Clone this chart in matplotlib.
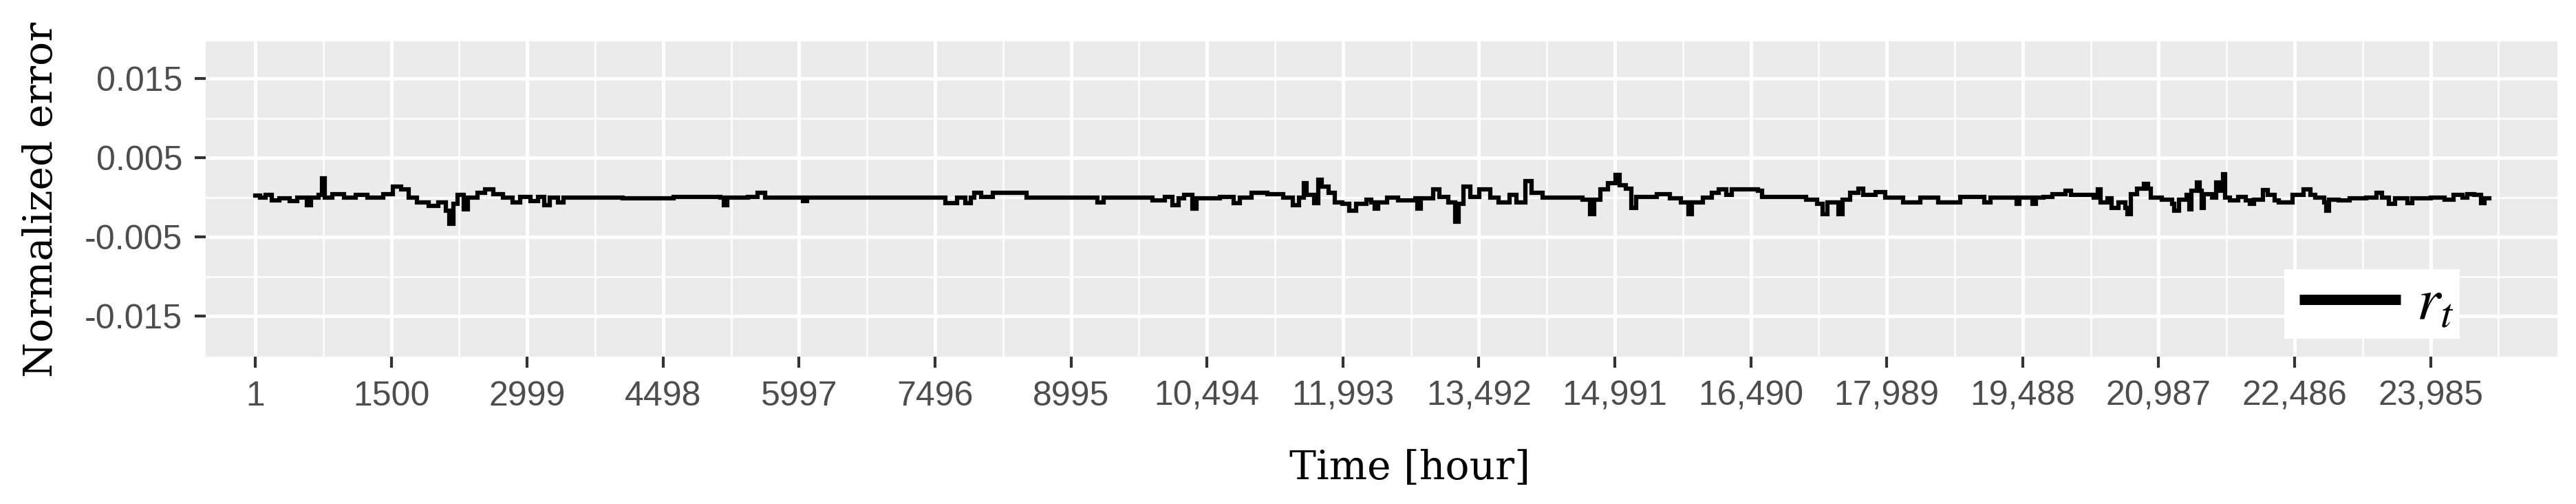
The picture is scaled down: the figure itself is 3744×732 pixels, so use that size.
import matplotlib
matplotlib.use("Agg")
import matplotlib.pyplot as plt
from matplotlib.legend_handler import HandlerLine2D

# ---- data (hour, normalized error), step-wise ----
hours = [1, 53, 118, 182, 269, 377, 463, 571, 614, 701, 735, 766, 852, 982, 1111, 1241,
         1414, 1522, 1608, 1694, 1781, 1910, 2018, 2105, 2139, 2183, 2234, 2299, 2342,
         2450, 2537, 2623, 2731, 2839, 2925, 3033, 3120, 3185, 3250, 3336, 3401, 4049,
         4611, 5129, 5164, 5207, 5431, 5539, 5626, 6041, 6084, 7609, 7740, 7827, 7892,
         7927, 8001, 8132, 8502, 9287, 9352, 9897, 10027, 10114, 10180, 10245, 10332,
         10376, 10637, 10790, 10855, 10986, 11160, 11334, 11443, 11508, 11561, 11596,
         11674, 11718, 11761, 11835, 11901, 11988, 12066, 12140, 12249, 12308, 12342,
         12380, 12477, 12598, 12792, 12816, 12850, 12986, 13058, 13155, 13228, 13266,
         13325, 13397, 13494, 13615, 13712, 13833, 13906, 14002, 14075, 14196, 14632,
         14719, 14767, 14835, 14913, 14995, 15044, 15116, 15174, 15223, 15455, 15600,
         15721, 15804, 15842, 15963, 16060, 16133, 16220, 16278, 16569, 16617, 17101,
         17222, 17285, 17334, 17455, 17499, 17586, 17673, 17731, 17866, 17973, 18167,
         18360, 18554, 18796, 19062, 19130, 19418, 19455, 19593, 19631, 19719, 19819,
         19957, 20020, 20270, 20315, 20350, 20420, 20471, 20546, 20621, 20641, 20684,
         20747, 20822, 20872, 20897, 21023, 21135, 21160, 21210, 21298, 21323, 21348,
         21411, 21443, 21461, 21486, 21574, 21624, 21662, 21694, 21719, 21774, 21862,
         21950, 21995, 22038, 22138, 22188, 22263, 22308, 22461, 22588, 22664, 22715,
         22816, 22837, 22867, 22969, 23096, 23274, 23388, 23451, 23527, 23591, 23731,
         23781, 23985, 24137, 24239, 24340, 24391, 24467, 24543, 24581, 24632]

errors = [0.0002, 0.0, 0.0003, -0.0004, -0.0001, -0.0005, 0.0, -0.0010, 0.0, 0.0003, 0.0024,
          0.0, 0.0004, 0.0, 0.0003, 0.0, 0.0004, 0.0014, 0.0010, 0.0, -0.0006, -0.0011,
          -0.0006, -0.0017, -0.0033, -0.0008, 0.0003, -0.0015, 0.0, 0.0006, 0.0010, 0.0004,
          0.0, -0.0006, 0.0001, -0.0005, 0.0001, -0.0010, 0.0, -0.0006, 0.0, -0.0001,
          0.0001, 0.0, -0.0010, 0.0, 0.0001, 0.0006, 0.0, -0.0005, 0.0, -0.0007, 0.0,
          -0.0007, 0.0, 0.0006, 0.0001, 0.0006, 0.0, -0.0006, 0.0, -0.0004, 0.0001,
          -0.0010, -0.0001, 0.0003, -0.0014, -0.0001, 0.0001, -0.0007, 0.0, 0.0006, 0.0004,
          0.0, -0.0010, 0.0, 0.0018, 0.0003, -0.0007, 0.0022, 0.0014, 0.0006, -0.0006,
          -0.0008, -0.0017, -0.0008, -0.0003, -0.0006, -0.0014, -0.0006, 0.0, -0.0004,
          -0.0001, -0.0014, -0.0001, 0.0010, 0.0001, -0.0006, -0.0031, -0.0008, 0.0014,
          0.0001, 0.0010, 0.0, -0.0006, 0.0003, -0.0006, 0.0021, 0.0006, 0.0, -0.0003,
          -0.0021, -0.0003, 0.0010, 0.0018, 0.0028, 0.0015, 0.0011, -0.0013, 0.0001,
          0.0004, -0.0001, -0.0006, -0.0021, -0.0006, 0.0, 0.0006, 0.0010, 0.0003, 0.0010,
          0.0008, 0.0001, -0.0003, -0.0008, -0.0021, -0.0006, -0.0021, -0.0003, 0.0006,
          0.0011, 0.0003, 0.0007, 0.0, -0.0006, 0.0, -0.0006, 0.0001, -0.0006, 0.0,
          -0.0008, 0.0, -0.0008, 0.0, 0.0001, 0.0004, 0.0008, 0.0003, 0.0, 0.0010, -0.0006,
          -0.0001, -0.0013, -0.0006, -0.0013, -0.0021, 0.0004, 0.0011, 0.0017, 0.0011, 0.0,
          -0.0003, -0.0008, -0.0017, -0.0003, 0.0003, -0.0015, 0.0008, 0.0019, 0.0008,
          -0.0013, 0.0004, 0.0, 0.0019, 0.0008, 0.0029, 0.0, -0.0004, 0.0001, -0.0004,
          -0.0008, -0.0003, 0.0009, 0.0003, -0.0004, -0.0006, 0.0003, 0.0010, 0.0003, 0.0,
          -0.0006, -0.0017, -0.0003, -0.0004, -0.0001, 0.0, 0.0006, 0.0, -0.0008, -0.0001,
          -0.0007, -0.0001, 0.0, -0.0003, 0.0003, 0.0, 0.0004, 0.0003, -0.0007, -0.0001,
          -0.0001]

x_ticks = [1, 1500, 2999, 4498, 5997, 7496, 8995, 10494, 11993, 13492, 14991,
           16490, 17989, 19488, 20987, 22486, 23985]
x_tick_labels = ["1", "1500", "2999", "4498", "5997", "7496", "8995", "10,494",
                 "11,993", "13,492", "14,991", "16,490", "17,989", "19,488",
                 "20,987", "22,486", "23,985"]
y_ticks = [-0.015, -0.005, 0.005, 0.015]
y_tick_labels = ["-0.015", "-0.005", "0.005", "0.015"]
y_minor = [-0.01, 0.0, 0.01]
series_label = r"$r_t\,$"
x_title = "Time [hour]"
y_title = "Normalized error"

plt.rcParams["mathtext.fontset"] = "stix"

W, H, DPI = 3745, 732, 300
fig = plt.figure(figsize=(W / DPI, H / DPI), dpi=DPI)
fig.patch.set_facecolor("white")

left, right, top, bottom = 299, 3717, 60, 518
ax = fig.add_axes([left / W, 1 - bottom / H, (right - left) / W, (bottom - top) / H])
ax.set_facecolor("#EBEBEB")
for s in ax.spines.values():
    s.set_visible(False)

line, = ax.step(hours, errors, where="post", color="black", lw=1.5, label=series_label,
                solid_joinstyle="miter", zorder=3)

ax.set_xlim(-545, 25384)
ax.set_ylim(-0.0201, 0.0197)

ax.set_xticks(x_ticks)
ax.set_xticklabels(x_tick_labels)
step = x_ticks[1] - x_ticks[0]
ax.set_xticks([t + step / 2 for t in x_ticks], minor=True)
ax.set_yticks(y_ticks)
ax.set_yticklabels(y_tick_labels)
ax.set_yticks(y_minor, minor=True)

ax.set_axisbelow(True)
ax.grid(which="major", color="white", lw=1.2)
ax.grid(which="minor", color="white", lw=0.6)
ax.tick_params(which="minor", length=0)
ax.tick_params(which="major", length=3.8, width=1.0, color="#333333",
               labelcolor="#4D4D4D", labelsize=12)
ax.tick_params(axis="x", pad=4.5)
ax.tick_params(axis="y", pad=4.3)
for lab in ax.get_xticklabels() + ax.get_yticklabels():
    lab.set_fontfamily("Liberation Sans")

fig.text(2049 / W, 1 - 680 / H, x_title, ha="center", va="center",
         fontsize=14, family="DejaVu Serif", color="black")
fig.text(60 / W, 1 - 290 / H, y_title, ha="center", va="center", rotation=90,
         fontsize=14, family="DejaVu Serif", color="black")

leg = ax.legend(loc="lower right",
                bbox_to_anchor=((3575 - left) / (right - left), (bottom - 492) / (bottom - top)),
                borderaxespad=0, frameon=True, fancybox=False, edgecolor="none",
                facecolor="white", framealpha=1, fontsize=21,
                handlelength=1.83, handletextpad=0.26, borderpad=0.1,
                handler_map={line: HandlerLine2D(xpad=0.15)})
for ln in leg.get_lines():
    ln.set_linewidth(3.6)
    ln.set_solid_capstyle("butt")

fig.savefig("out.png", dpi=DPI, facecolor="white")
